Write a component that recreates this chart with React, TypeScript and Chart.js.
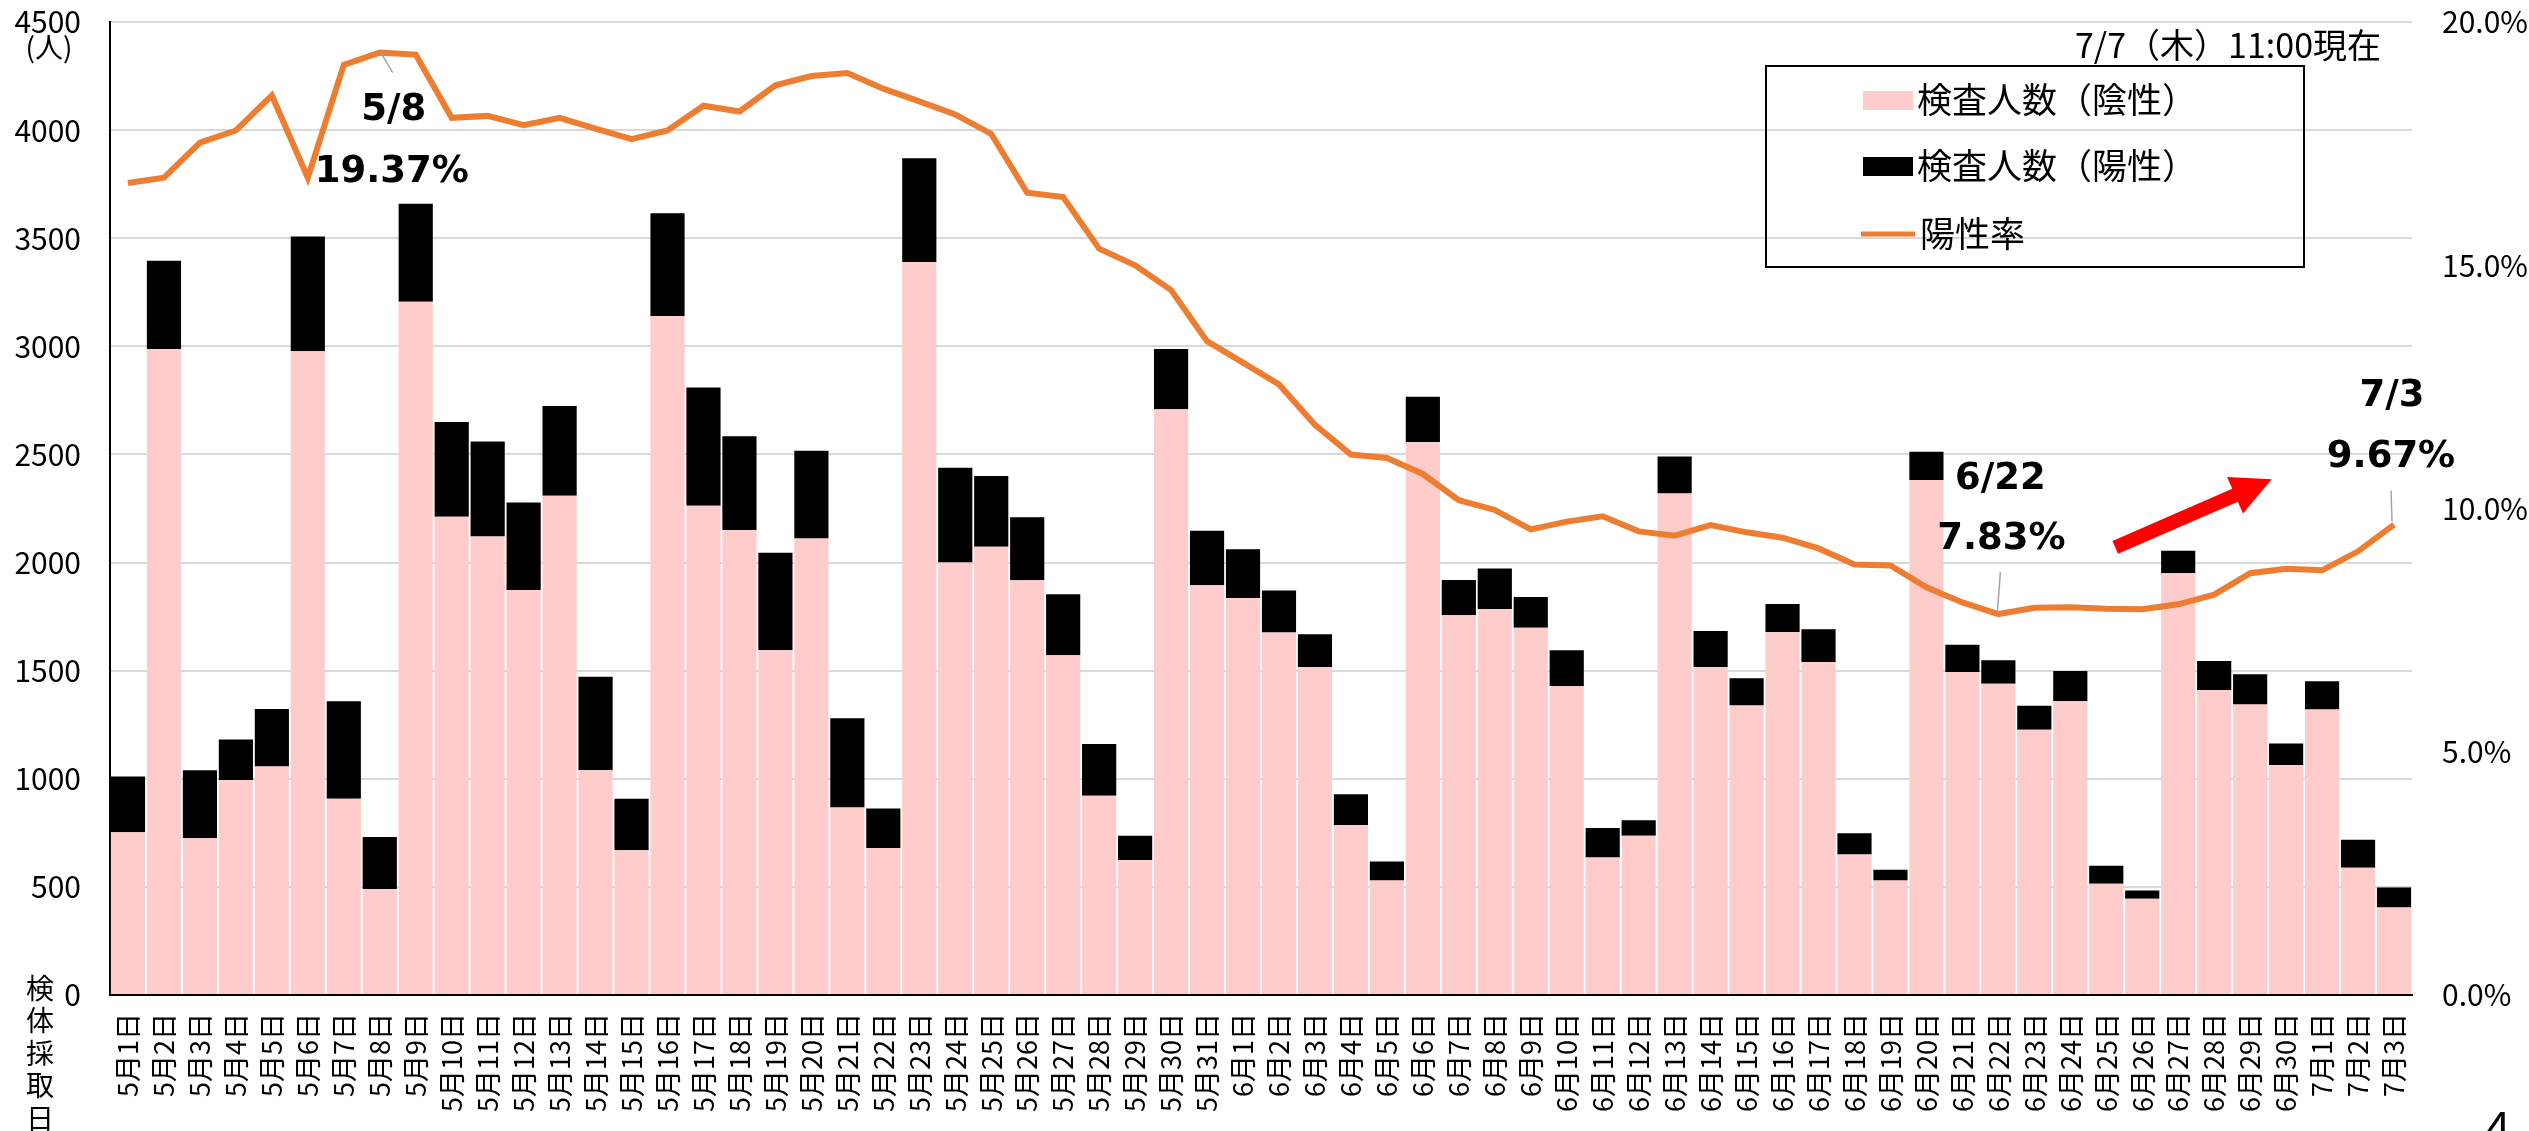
import React, { useEffect, useRef } from "react";
import { Chart, registerables } from "chart.js";

Chart.register(...registerables);

const W = 2529;
const H = 1131;

const dateLabels = [
  "5月1日", "5月2日", "5月3日", "5月4日", "5月5日", "5月6日", "5月7日", "5月8日", "5月9日", "5月10日",
  "5月11日", "5月12日", "5月13日", "5月14日", "5月15日", "5月16日", "5月17日", "5月18日", "5月19日", "5月20日",
  "5月21日", "5月22日", "5月23日", "5月24日", "5月25日", "5月26日", "5月27日", "5月28日", "5月29日", "5月30日",
  "5月31日", "6月1日", "6月2日", "6月3日", "6月4日", "6月5日", "6月6日", "6月7日", "6月8日", "6月9日",
  "6月10日", "6月11日", "6月12日", "6月13日", "6月14日", "6月15日", "6月16日", "6月17日", "6月18日", "6月19日",
  "6月20日", "6月21日", "6月22日", "6月23日", "6月24日", "6月25日", "6月26日", "6月27日", "6月28日", "6月29日",
  "6月30日", "7月1日", "7月2日", "7月3日",
];

// 検査人数（陰性）
const negativeCounts = [
  753, 2988, 725, 994, 1057, 2977, 908, 490, 3206, 2212,
  2121, 1873, 2309, 1039, 670, 3140, 2263, 2151, 1594, 2111,
  867, 680, 3390, 2000, 2073, 1918, 1571, 921, 624, 2709,
  1895, 1836, 1677, 1517, 786, 529, 2557, 1756, 1785, 1698,
  1428, 636, 736, 2319, 1517, 1339, 1679, 1540, 650, 529,
  2382, 1494, 1440, 1227, 1358, 514, 445, 1951, 1411, 1344,
  1064, 1320, 589, 405,
];

// 検査人数（陽性）
const positiveCounts = [
  258, 408, 314, 188, 266, 531, 450, 241, 453, 438,
  439, 405, 415, 433, 238, 476, 547, 433, 451, 406,
  413, 182, 480, 438, 327, 292, 282, 240, 112, 279,
  252, 225, 194, 152, 142, 88, 210, 163, 188, 143,
  166, 136, 72, 171, 166, 126, 129, 151, 98, 50,
  130, 126, 108, 111, 140, 84, 38, 104, 134, 140,
  99, 131, 129, 92,
];

// 陽性率 (%)
const positivityRate = [
  16.69, 16.8, 17.52, 17.77, 18.49, 16.8, 19.12, 19.37, 19.33, 18.03,
  18.07, 17.88, 18.03, 17.81, 17.59, 17.77, 18.28, 18.16, 18.7, 18.89,
  18.95, 18.63, 18.37, 18.1, 17.7, 16.49, 16.4, 15.34, 15.0, 14.49,
  13.44, 13.0, 12.55, 11.72, 11.11, 11.04, 10.71, 10.17, 9.97, 9.57,
  9.73, 9.84, 9.53, 9.44, 9.66, 9.51, 9.4, 9.18, 8.85, 8.83,
  8.38, 8.07, 7.83, 7.96, 7.97, 7.94, 7.93, 8.03, 8.23, 8.67,
  8.76, 8.73, 9.12, 9.67,
];

const seriesNames = ["検査人数（陰性）", "検査人数（陽性）", "陽性率"];
const leftAxisMax = 4500;
const leftAxisStep = 500;
const rightAxisMax = 20;
const rightAxisStep = 5;
const leftUnitLabel = "(人)";
const xAxisTitleChars = ["検", "体", "採", "取", "日"];
const asOfText = "7/7（木）11:00現在";
const pageNumber = "4";

const calloutIndexes = [7, 52, 63];
const calloutDates = ["5/8", "6/22", "7/3"];
const calloutRates = ["19.37%", "7.83%", "9.67%"];

const PINK = "#FFCCCC";
const ORANGE = "#ED7D31";
const JP = '"Noto Sans CJK JP", "Noto Sans", sans-serif';
const BOLD = '"DejaVu Sans", "Noto Sans", sans-serif';

const AREA_TOP = 22;

const overlayPlugin = {
  id: "overlay",
  afterDatasetsDraw(chart: any) {
    const ctx = chart.ctx as CanvasRenderingContext2D;
    const xs = chart.scales.x;
    const y2 = chart.scales.y2;
    ctx.save();

    // unit label
    ctx.fillStyle = "#000";
    ctx.font = `28px ${JP}`;
    ctx.textAlign = "center";
    ctx.textBaseline = "middle";
    ctx.fillText(leftUnitLabel, 49, 47);

    // vertical axis title
    ctx.font = `28px ${JP}`;
    xAxisTitleChars.forEach((c, i) => ctx.fillText(c, 40, 988 + i * 32.5));

    // as-of text
    ctx.font = `34px ${JP}`;
    ctx.textAlign = "right";
    ctx.fillText(asOfText, 2381, 45);

    // legend
    ctx.lineWidth = 2;
    ctx.strokeStyle = "#000";
    ctx.strokeRect(1766, 66, 538, 201);
    ctx.fillStyle = PINK;
    ctx.fillRect(1863, 91, 50, 19);
    ctx.fillStyle = "#000";
    ctx.fillRect(1863, 157, 50, 19);
    ctx.strokeStyle = ORANGE;
    ctx.lineWidth = 5;
    ctx.beginPath();
    ctx.moveTo(1861, 234);
    ctx.lineTo(1915, 234);
    ctx.stroke();
    ctx.fillStyle = "#000";
    ctx.font = `35px ${JP}`;
    ctx.textAlign = "left";
    ctx.fillText(seriesNames[0], 1917, 100);
    ctx.fillText(seriesNames[1], 1917, 166);
    ctx.fillText(seriesNames[2], 1920, 234);

    // callouts
    const offsets = [
      { l1: [1, 0], l2: [13, 20], d: [14, 58], r: [12, 120] },
      { l1: [2, -42], l2: [-1, -2], d: [2, -135], r: [3, -75] },
      { l1: [-3, -34], l2: [-2, -3], d: [-2, -128], r: [-3, -67] },
    ];
    calloutIndexes.forEach((idx, k) => {
      const px = xs.getPixelForValue(idx);
      const py = y2.getPixelForValue(positivityRate[idx]);
      const o = offsets[k];
      ctx.strokeStyle = "#a6a6a6";
      ctx.lineWidth = 1.5;
      ctx.beginPath();
      ctx.moveTo(px + o.l1[0], py + o.l1[1]);
      ctx.lineTo(px + o.l2[0], py + o.l2[1]);
      ctx.stroke();
      ctx.fillStyle = "#000";
      ctx.font = `bold 37px ${BOLD}`;
      ctx.textAlign = "center";
      ctx.textBaseline = "middle";
      ctx.fillText(calloutDates[k], px + o.d[0], py + o.d[1]);
      ctx.fillText(calloutRates[k], px + o.r[0], py + o.r[1]);
    });

    // red arrow
    const tx = xs.getPixelForValue(55.25);
    const ty = y2.getPixelForValue(9.2);
    const hx = xs.getPixelForValue(59.6);
    const hy = y2.getPixelForValue(10.6);
    const dx = hx - tx;
    const dy = hy - ty;
    const len = Math.hypot(dx, dy);
    const ux = dx / len;
    const uy = dy / len;
    const nx = -uy;
    const ny = ux;
    const sw = 7;
    const hw = 20;
    const hl = 40;
    const bx = hx - ux * hl;
    const by = hy - uy * hl;
    ctx.fillStyle = "#FF0000";
    ctx.beginPath();
    ctx.moveTo(tx + nx * sw, ty + ny * sw);
    ctx.lineTo(bx + nx * sw, by + ny * sw);
    ctx.lineTo(bx + nx * hw, by + ny * hw);
    ctx.lineTo(hx, hy);
    ctx.lineTo(bx - nx * hw, by - ny * hw);
    ctx.lineTo(bx - nx * sw, by - ny * sw);
    ctx.lineTo(tx - nx * sw, ty - ny * sw);
    ctx.closePath();
    ctx.fill();

    // page number
    ctx.fillStyle = "#000";
    ctx.font = `44px ${JP}`;
    ctx.textAlign = "left";
    ctx.textBaseline = "top";
    ctx.fillText(pageNumber, 2486, 1104);

    ctx.restore();
  },
};

export default function App() {
  const ref = useRef<HTMLCanvasElement | null>(null);

  useEffect(() => {
    document.body.style.margin = "0";
    document.body.style.overflow = "hidden";
    const canvas = ref.current;
    if (!canvas) return;
    const chart = new Chart(canvas, {
      type: "bar",
      data: {
        labels: dateLabels,
        datasets: [
          {
            type: "line",
            label: seriesNames[2],
            data: positivityRate,
            yAxisID: "y2",
            borderColor: ORANGE,
            backgroundColor: ORANGE,
            borderWidth: 6,
            pointRadius: 0,
            tension: 0,
            order: 0,
          } as any,
          {
            type: "bar",
            label: seriesNames[0],
            data: negativeCounts,
            yAxisID: "y",
            backgroundColor: PINK,
            stack: "s",
            order: 1,
            barPercentage: 0.95,
            categoryPercentage: 1,
          },
          {
            type: "bar",
            label: seriesNames[1],
            data: positiveCounts,
            yAxisID: "y",
            backgroundColor: "#000000",
            stack: "s",
            order: 1,
            barPercentage: 0.95,
            categoryPercentage: 1,
          },
        ],
      },
      options: {
        responsive: false,
        animation: false,
        devicePixelRatio: 1,
        layout: { autoPadding: false, padding: { top: AREA_TOP, left: 0, right: 0, bottom: 0 } },
        plugins: {
          legend: { display: false },
          title: { display: false },
          tooltip: { enabled: false },
        },
        scales: {
          x: {
            stacked: true,
            grid: { display: false, drawTicks: false },
            border: { display: true, color: "#000", width: 2 },
            ticks: {
              autoSkip: false,
              minRotation: 90,
              maxRotation: 90,
              padding: 18,
              color: "#000",
              font: { family: JP, size: 27 },
            },
            afterFit: (s: any) => {
              s.height = 136;
              s.paddingLeft = 0;
              s.paddingRight = 0;
              s.paddingTop = 0;
              s.paddingBottom = 0;
            },
          },
          y: {
            stacked: true,
            position: "left",
            min: 0,
            max: leftAxisMax,
            ticks: {
              stepSize: leftAxisStep,
              padding: 29,
              color: "#000",
              font: { family: JP, size: 30 },
              callback: (v: any) => String(v),
            },
            grid: { color: "#d9d9d9", lineWidth: 2, drawTicks: false },
            border: { display: true, color: "#000", width: 2 },
            afterFit: (s: any) => {
              s.width = 110;
              s.paddingTop = 0;
              s.paddingBottom = 0;
              s.paddingLeft = 0;
              s.paddingRight = 0;
            },
          },
          y2: {
            position: "right",
            min: 0,
            max: rightAxisMax,
            ticks: {
              stepSize: rightAxisStep,
              padding: 30,
              color: "#000",
              font: { family: JP, size: 30 },
              callback: (v: any) => Number(v).toFixed(1) + "%",
            },
            grid: { display: false, drawTicks: false },
            border: { display: false },
            afterFit: (s: any) => {
              s.width = 117;
              s.paddingTop = 0;
              s.paddingBottom = 0;
              s.paddingLeft = 0;
              s.paddingRight = 0;
            },
          },
        },
      },
      plugins: [overlayPlugin],
    });
    const diff = chart.chartArea.top - AREA_TOP;
    if (Math.abs(diff) > 0.5) {
      (chart.options.layout as any).padding = { top: AREA_TOP - diff, left: 0, right: 0, bottom: 0 };
      chart.update();
    }
    return () => chart.destroy();
  }, []);

  return (
    <div style={{ width: W, height: H, position: "relative", background: "#fff" }}>
      <canvas ref={ref} width={W} height={H} style={{ width: W, height: H, display: "block" }} />
    </div>
  );
}
